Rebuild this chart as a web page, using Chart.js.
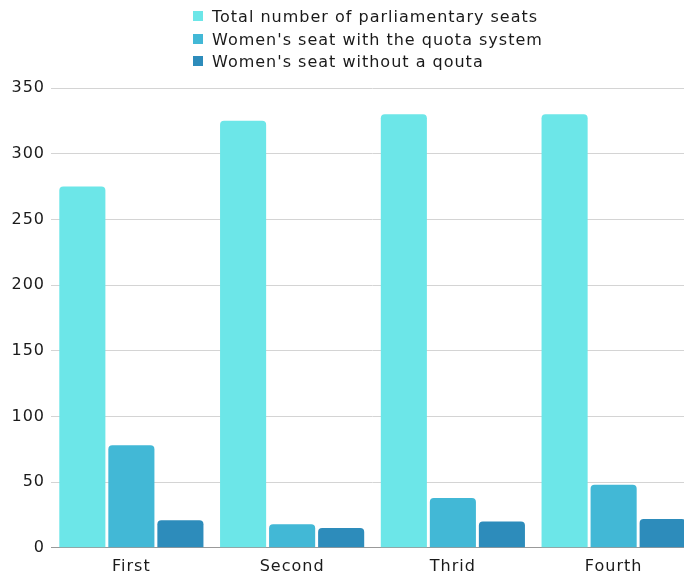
<!DOCTYPE html>
<html>
<head>
<meta charset="utf-8">
<script src="https://cdn.jsdelivr.net/npm/chart.js@4/dist/chart.umd.min.js"></script>
<style>
  html, body { margin: 0; padding: 0; background: #fff; overflow: hidden; }
  #wrap { position: relative; width: 684px; height: 577px; overflow: hidden; }
  #chart { position: absolute; left: 0; top: 0; }
  #legend { position: absolute; left: 193px; top: 6px; font-family: "DejaVu Sans", sans-serif; font-size: 16px; letter-spacing: 1px; color: #1a1a1a; }
  #legend div { height: 22.5px; line-height: 22.5px; white-space: nowrap; }
  #legend span { display: inline-block; width: 10px; height: 10px; margin-right: 9px; vertical-align: 1px; }
</style>
</head>
<body>
<div id="wrap">
  <canvas id="chart" width="694" height="577"></canvas>
  <div id="legend"></div>
</div>
<script>
const categories = ["First", "Second", "Thrid", "Fourth"]
const seriesNames = [
  "Total number of parliamentary seats",
  "Women's seat with the quota system",
  "Women's seat without a qouta"
]
const totalSeats = [275, 325, 330, 330]
const quotaSeats = [78, 18, 38, 48]
const noQuotaSeats = [21, 15, 20, 22]
const colors = ["#6ce6e8", "#42b8d6", "#2d8cbb"]

const values = [totalSeats, quotaSeats, noQuotaSeats]
const font = { family: "'DejaVu Sans', sans-serif", size: 16 }

const legend = document.getElementById("legend")
seriesNames.forEach((name, i) => {
  const row = document.createElement("div")
  const box = document.createElement("span")
  box.style.background = colors[i]
  row.appendChild(box)
  row.appendChild(document.createTextNode(name))
  legend.appendChild(row)
})

// wider lettering, closer to the reference typeface
// (canvas resizes reset the context, so set it again before each pass)
const spacing = {
  id: "spacing",
  beforeUpdate: (chart) => { chart.ctx.letterSpacing = "1px" },
  beforeDraw: (chart) => { chart.ctx.letterSpacing = "1px" }
}

new Chart(document.getElementById("chart"), {
  type: "bar",
  data: {
    labels: categories,
    datasets: seriesNames.map((name, i) => ({
      label: name,
      data: values[i],
      backgroundColor: colors[i],
      borderRadius: { topLeft: 4, topRight: 4 },
      borderSkipped: "bottom",
      categoryPercentage: 0.915,
      barPercentage: 0.94
    }))
  },
  plugins: [spacing],
  options: {
    responsive: false,
    animation: false,
    layout: { padding: { top: 88, right: 0, bottom: 0, left: 0 } },
    plugins: {
      legend: { display: false },
      tooltip: { enabled: false }
    },
    scales: {
      x: {
        grid: { display: false },
        border: { display: true, color: "#999" },
        ticks: { color: "#1a1a1a", font: font, padding: 1 }
      },
      y: {
        min: 0,
        max: 350,
        afterFit: (scale) => { scale.width = 51 },
        grid: { color: "#d4d4d4", drawTicks: false },
        border: { display: false },
        ticks: { stepSize: 50, color: "#1a1a1a", font: font, padding: 6 }
      }
    }
  }
})
</script>
</body>
</html>
